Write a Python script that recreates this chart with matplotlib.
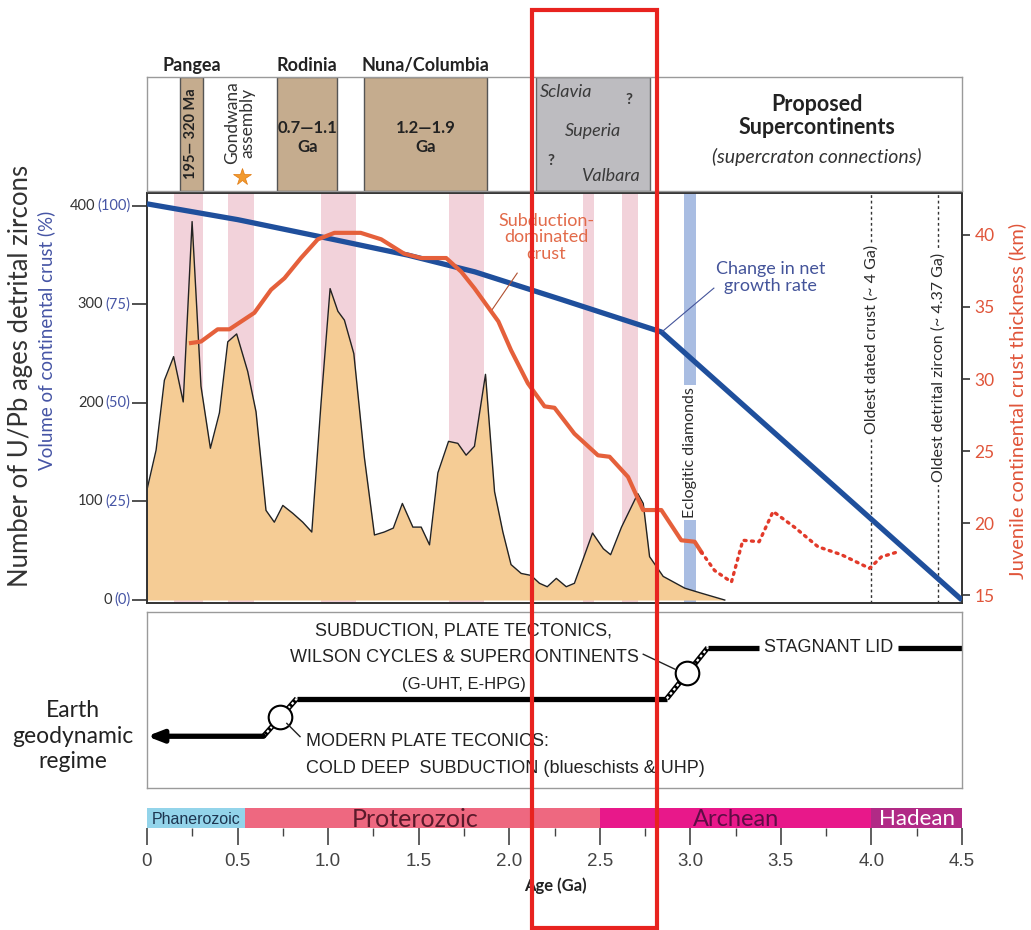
import matplotlib
matplotlib.use("Agg")
import matplotlib.pyplot as plt
from matplotlib import font_manager
from matplotlib.patches import Rectangle

# ---------------- data ----------------
zircon_age = [0.0, 0.05, 0.096, 0.147, 0.2, 0.249, 0.298, 0.35, 0.40, 0.446, 0.495, 0.556, 0.602,
              0.657, 0.703, 0.75, 0.805, 0.86, 0.91, 0.961, 1.011, 1.054, 1.09, 1.142, 1.2, 1.256,
              1.31, 1.36, 1.41, 1.468, 1.514, 1.56, 1.606, 1.665, 1.716, 1.762, 1.808, 1.869, 1.919,
              1.965, 2.01, 2.066, 2.12, 2.167, 2.21, 2.26, 2.315, 2.36, 2.46, 2.52, 2.56, 2.62, 2.71,
              2.74, 2.775, 2.85, 2.97, 3.06, 3.19]
zircon_count = [112, 152, 223, 247, 201, 384, 217, 154, 190, 262, 270, 232, 191,
                91, 79, 96, 88, 79, 69, 200, 316, 293, 284, 250, 145, 66,
                69, 73, 98, 74, 74, 56, 129, 161, 159, 147, 156, 229, 110,
                69, 36, 27, 25, 17, 13.5, 22, 13.5, 17, 68, 52, 46, 74, 108,
                98, 44, 24, 12, 7, 0]

growth_age = [0.0, 0.5, 1.0, 1.44, 1.81, 2.287, 2.84, 4.5]
growth_count = [402, 386, 367, 350, 333, 305, 272, 0]

thick_age = [0.243, 0.298, 0.39, 0.455, 0.593, 0.685, 0.759, 0.85, 0.943, 1.035, 1.18, 1.293,
             1.42, 1.514, 1.652, 1.735, 1.808, 1.94, 2.01, 2.103, 2.195, 2.25, 2.36, 2.49, 2.554,
             2.656, 2.739, 2.84, 2.95, 3.024, 3.06]
thick_km = [32.5, 32.6, 33.45, 33.45, 34.6, 36.2, 37.0, 38.4, 39.7, 40.15, 40.15, 39.7,
            38.7, 38.4, 38.4, 37.45, 36.3, 34.0, 32.0, 29.7, 28.1, 28.0, 26.2, 24.7, 24.6,
            23.2, 20.9, 20.9, 18.8, 18.7, 18.0]
thick_dot_age = [3.06, 3.134, 3.227, 3.29, 3.38, 3.457, 3.576, 3.705, 3.834, 3.99, 4.055, 4.147]
thick_dot_km = [18.0, 16.7, 15.9, 18.8, 18.7, 20.8, 19.7, 18.35, 17.8, 16.85, 17.65, 18.0]

pink_start = [0.151, 0.449, 0.958, 1.665, 2.41, 2.62]
pink_end = [0.308, 0.59, 1.155, 1.86, 2.47, 2.71]
diamond_band = (2.965, 3.033)

left_ticks = [0, 100, 200, 300, 400]
left_pct = [0, 25, 50, 75, 100]
right_ticks = [15, 20, 25, 30, 35, 40]

sc_names = ["Pangea", "Rodinia", "Nuna/Columbia"]
sc_start = [0.18, 0.72, 1.2]
sc_end = [0.31, 1.05, 1.88]
sc_ages = ["195\u2014 320 Ma", "0.7\u20141.1\nGa", "1.2\u20141.9\nGa"]
craton_box = (2.15, 2.78)
cratons = ["Sclavia", "Superia", "Valbara"]

eons = ["Phanerozoic", "Proterozoic", "Archean", "Hadean"]
eon_start = [0.0, 0.541, 2.5, 4.0]
eon_end = [0.541, 2.5, 4.0, 4.5]
eon_colors = ["#93d4ea", "#ee6880", "#e8188a", "#b12a86"]
eon_text_colors = ["#1d3550", "#5a1a2a", "#5e0d45", "#ffffff"]
eon_text_x = [0.27, 1.48, 3.25, 4.25]
eon_text_size = [11.5, 18, 17, 16]

x_ticks = [0, 0.5, 1.0, 1.5, 2.0, 2.5, 3.0, 3.5, 4.0, 4.5]
x_labels = ["0", "0.5", "1.0", "1.5", "2.0", "2.5", "3.0", "3.5", "4.0", "4.5"]

# ---------------- fonts ----------------
avail = {f.name for f in font_manager.fontManager.ttflist}
BASE = ["Lato", "DejaVu Sans"]
NARROW = (["Liberation Sans Narrow", "DejaVu Sans"] if "Liberation Sans Narrow" in avail
          else ["Liberation Sans", "DejaVu Sans"])
plt.rcParams["font.family"] = BASE

W, H = 1031, 930
fig = plt.figure(figsize=(W / 100, H / 100), dpi=100)


def rect(l, t, r, b):
    return [l / W, 1 - b / H, (r - l) / W, (b - t) / H]


BLUE = "#1f4f9c"
LBLUE = "#4655a5"
ORANGE = "#e5603b"
DARK = "#2b2b2b"

# ---------------- main panel ----------------
ax = fig.add_axes(rect(147, 193, 962, 603))
ax.set_xlim(0, 4.5)
ax.set_ylim(-3, 413)
for s, e in zip(pink_start, pink_end):
    ax.axvspan(s, e, color="#f2d2da", zorder=0, lw=0)
ax.axvspan(*diamond_band, color="#a9bde2", zorder=0, lw=0)
ax.fill_between(zircon_age, 0, zircon_count, color="#f5cc95", lw=0, zorder=1)
ax.plot([0] + zircon_age, [0] + zircon_count, color="#222222", lw=1.0, zorder=2)
ax.plot(growth_age, growth_count, color=BLUE, lw=3.8, zorder=4, solid_capstyle="butt")

for xv in (4.0, 4.37):
    ax.axvline(xv, color="#333333", lw=1.0, ls=(0, (2, 2)), zorder=3)
ax.text(4.0, 264, "Oldest dated crust (~ 4 Ga)", rotation=90, ha="center", va="center",
        fontsize=11.5, color=DARK, zorder=5,
        bbox=dict(facecolor="white", edgecolor="none", pad=2))
ax.text(4.37, 236, "Oldest detrital zircon (~ 4.37 Ga)", rotation=90, ha="center", va="center",
        fontsize=11.5, color=DARK, zorder=5,
        bbox=dict(facecolor="white", edgecolor="none", pad=2))
ax.text(3.0, 150, "Eclogitic diamonds", rotation=90, ha="center", va="center",
        fontsize=11.5, color=DARK, zorder=5,
        bbox=dict(facecolor="white", edgecolor="none", pad=1.5))

ax.text(2.206, 368, "Subduction-\ndominated\ncrust", ha="center", va="center",
        fontsize=13, color="#e26b4a", linespacing=1.02, zorder=6)
ax.plot([2.044, 1.904], [331.7, 294.2], color="#b05030", lw=0.8, zorder=6)
ax.text(3.444, 327, "Change in net\ngrowth rate", ha="center", va="center",
        fontsize=13, color="#44549a", linespacing=1.05, zorder=6)
ax.plot([3.13, 2.845], [316.5, 272.4], color="#44549a", lw=0.8, zorder=6)

ax.set_xticks([])
ax.set_yticks(left_ticks)
ax.set_yticklabels([])
ax.tick_params(axis="y", direction="out", length=11, width=1.2, color="#333333")
for sp in ax.spines.values():
    sp.set_color("#333333")
    sp.set_linewidth(1.4)

for v, p in zip(left_ticks, left_pct):
    t = ax.annotate(f"({p})", xy=(0, v), xycoords=("axes fraction", "data"),
                    xytext=(-12, 0), textcoords="offset points", ha="right", va="center",
                    fontsize=10.5, color=LBLUE)
    ax.annotate(f"{v}", xy=(0, 0.5), xycoords=t, xytext=(-1.5, 0), textcoords="offset points",
                ha="right", va="center", fontsize=10.5, color="#333333")

ax2 = ax.twinx()
ax2.set_ylim(15 - 8 / 14.4, 15 + 402 / 14.4)
ax2.plot(thick_age, thick_km, color=ORANGE, lw=3.0, solid_joinstyle="round")
ax2.plot(thick_dot_age, thick_dot_km, color="#e23a2a", lw=2.4, ls=(0, (0.6, 1.6)),
         dash_capstyle="round")
ax2.set_yticks(right_ticks)
ax2.set_yticklabels([str(v) for v in right_ticks])
ax2.tick_params(axis="y", direction="out", length=6, width=1.2, color="#333333",
                labelcolor="#e0553a", labelsize=12.5, pad=3)
for sp in ax2.spines.values():
    sp.set_visible(False)

fig.text(21 / W, 1 - 376 / H, "Number of U/Pb ages detrital zircons", rotation=90,
         ha="center", va="center", fontsize=18.5, color="#333333")
fig.text(46 / W, 1 - 340 / H, "Volume of continental crust (%)", rotation=90,
         ha="center", va="center", fontsize=13.5, color=LBLUE)
fig.text(1017 / W, 1 - 401 / H, "Juvenile continental crust thickness (km)", rotation=90,
         ha="center", va="center", fontsize=14.5, color="#e0553a")

# ---------------- top panel ----------------
axt = fig.add_axes(rect(147, 77, 962, 191))
axt.set_xlim(0, 4.5)
axt.set_ylim(0, 1)
axt.set_xticks([])
axt.set_yticks([])
for sp in axt.spines.values():
    sp.set_color("#9a9a9a")
    sp.set_linewidth(1.0)
for name, s, e, lab in zip(sc_names, sc_start, sc_end, sc_ages):
    axt.add_patch(Rectangle((s, 0), e - s, 1, facecolor="#c5ac8e", edgecolor="#555555", lw=1.0))
    axt.text((s + e) / 2, 1.1, name, ha="center", va="center", fontsize=13,
             fontweight="bold", color="#222222", clip_on=False)
    if name == "Pangea":
        axt.text((s + e) / 2, 0.5, lab, rotation=90, ha="center", va="center",
                 fontsize=10.5, fontweight="bold", color="#222222")
    else:
        axt.text((s + e) / 2, 0.47, lab, ha="center", va="center", fontsize=12,
                 fontweight="bold", color="#222222", linespacing=1.25)
axt.text(0.514, 0.6, "Gondwana\nassembly", rotation=90, ha="center", va="center",
         fontsize=12.5, color="#333333", linespacing=0.95)
axt.plot([0.525], [0.12], marker="*", ms=13, color="#f29a2e", mec="#e07a10", mew=0.5)

axt.add_patch(Rectangle((craton_box[0], 0), craton_box[1] - craton_box[0], 1,
                        facecolor="#bdbcc0", edgecolor="#666666", lw=1.0))
axt.text(2.316, 0.87, cratons[0], ha="center", va="center", fontsize=13,
         style="italic", color="#3a3a3a")
axt.text(2.46, 0.53, cratons[1], ha="center", va="center", fontsize=13,
         style="italic", color="#3a3a3a")
axt.text(2.56, 0.135, cratons[2], ha="center", va="center", fontsize=13,
         style="italic", color="#3a3a3a")
axt.text(2.66, 0.80, "?", ha="center", va="center", fontsize=11, fontweight="bold", color="#3a3a3a")
axt.text(2.228, 0.26, "?", ha="center", va="center", fontsize=11, fontweight="bold", color="#3a3a3a")

axt.text(3.70, 0.66, "Proposed\nSupercontinents", ha="center", va="center", fontsize=15.5,
         fontweight="bold", color="#222222", linespacing=1.1)
axt.text(3.70, 0.30, "(supercraton connections)", ha="center", va="center", fontsize=14,
         style="italic", color="#333333")

# ---------------- regime panel ----------------
axr = fig.add_axes(rect(147, 612, 962, 788))
axr.set_xlim(0, 4.5)
axr.set_ylim(0, 1)
axr.set_xticks([])
axr.set_yticks([])
for sp in axr.spines.values():
    sp.set_color("#9a9a9a")
    sp.set_linewidth(1.0)

LW = 3.8
axr.annotate("", xy=(0.0, 0.294), xytext=(0.643, 0.294),
             arrowprops=dict(arrowstyle="-|>,head_length=0.9,head_width=0.35", lw=LW,
                             color="black", shrinkA=0, shrinkB=0))
axr.plot([0.827, 2.87], [0.508, 0.508], color="black", lw=LW, solid_capstyle="butt")
axr.plot([3.096, 3.38], [0.797, 0.797], color="black", lw=LW, solid_capstyle="butt")
axr.plot([4.146, 4.5], [0.797, 0.797], color="black", lw=LW, solid_capstyle="butt")
for (x0, y0, x1, y1) in [(0.643, 0.294, 0.827, 0.508), (2.87, 0.508, 3.096, 0.797)]:
    axr.plot([x0, x1], [y0, y1], color="black", lw=LW, solid_capstyle="butt")
    axr.plot([x0, x1], [y0, y1], color="white", lw=1.6, ls=(0, (1.2, 1.2)))
    axr.plot([(x0 + x1) / 2], [(y0 + y1) / 2], marker="o", ms=17, mfc="white",
             mec="black", mew=1.5)
axr.text(3.762, 0.797, "STAGNANT LID", ha="center", va="center", fontsize=13,
         family=NARROW, color="#222222")
axr.text(1.75, 0.893, "SUBDUCTION, PLATE TECTONICS,", ha="center", va="center",
         fontsize=13, family=NARROW, color="#222222")
axr.text(1.75, 0.74, "WILSON CYCLES & SUPERCONTINENTS", ha="center", va="center",
         fontsize=13, family=NARROW, color="#222222")
axr.text(1.75, 0.588, "(G-UHT, E-HPG)", ha="center", va="center",
         fontsize=12, family=NARROW, color="#222222")
axr.plot([2.74, 2.915], [0.76, 0.675], color="#222222", lw=1.0)
axr.text(0.879, 0.266, "MODERN PLATE TECONICS:", ha="left", va="center",
         fontsize=13, family=NARROW, color="#222222")
axr.text(0.879, 0.113, "COLD DEEP  SUBDUCTION (blueschists & UHP)", ha="left", va="center",
         fontsize=13, family=NARROW, color="#222222")
axr.plot([0.772, 0.845], [0.367, 0.292], color="#222222", lw=1.0)

fig.text(73 / W, 1 - 736 / H, "Earth\ngeodynamic\nregime", ha="center", va="center",
         fontsize=16.5, color="#222222", linespacing=1.25)

# ---------------- eon bar ----------------
axe = fig.add_axes(rect(147, 808, 962, 828))
axe.set_xlim(0, 4.5)
axe.set_ylim(0, 1)
for name, s, e, c, tc, tx, ts in zip(eons, eon_start, eon_end, eon_colors, eon_text_colors,
                                     eon_text_x, eon_text_size):
    axe.add_patch(Rectangle((s, 0), e - s, 1, facecolor=c, edgecolor="none"))
    axe.text(tx, 0.45, name, ha="center", va="center", fontsize=ts, color=tc,
             family=NARROW if name == "Phanerozoic" else BASE)
for sp in axe.spines.values():
    sp.set_visible(False)
axe.set_yticks([])
axe.set_xticks(x_ticks)
axe.set_xticklabels(x_labels, family=NARROW, fontsize=13.5, color="#444444")
axe.set_xticks([0.25 + 0.5 * i for i in range(9)], minor=True)
axe.tick_params(axis="x", which="major", direction="out", length=12, width=1.2,
                color="#444444", pad=6)
axe.tick_params(axis="x", which="minor", direction="out", length=6, width=1.0,
                color="#444444")
fig.text(555 / W, 1 - 886 / H, "Age (Ga)", ha="center", va="center", fontsize=12,
         fontweight="bold", color="#222222")

# ---------------- highlight box ----------------
fig.patches.append(Rectangle((531.5 / W, 1 - 927.5 / H), (657 - 531.5) / W, (927.5 - 10.5) / H,
                             transform=fig.transFigure, fill=False, edgecolor="#e8231f",
                             lw=3.0, zorder=10))

fig.savefig("out.png", dpi=100)
